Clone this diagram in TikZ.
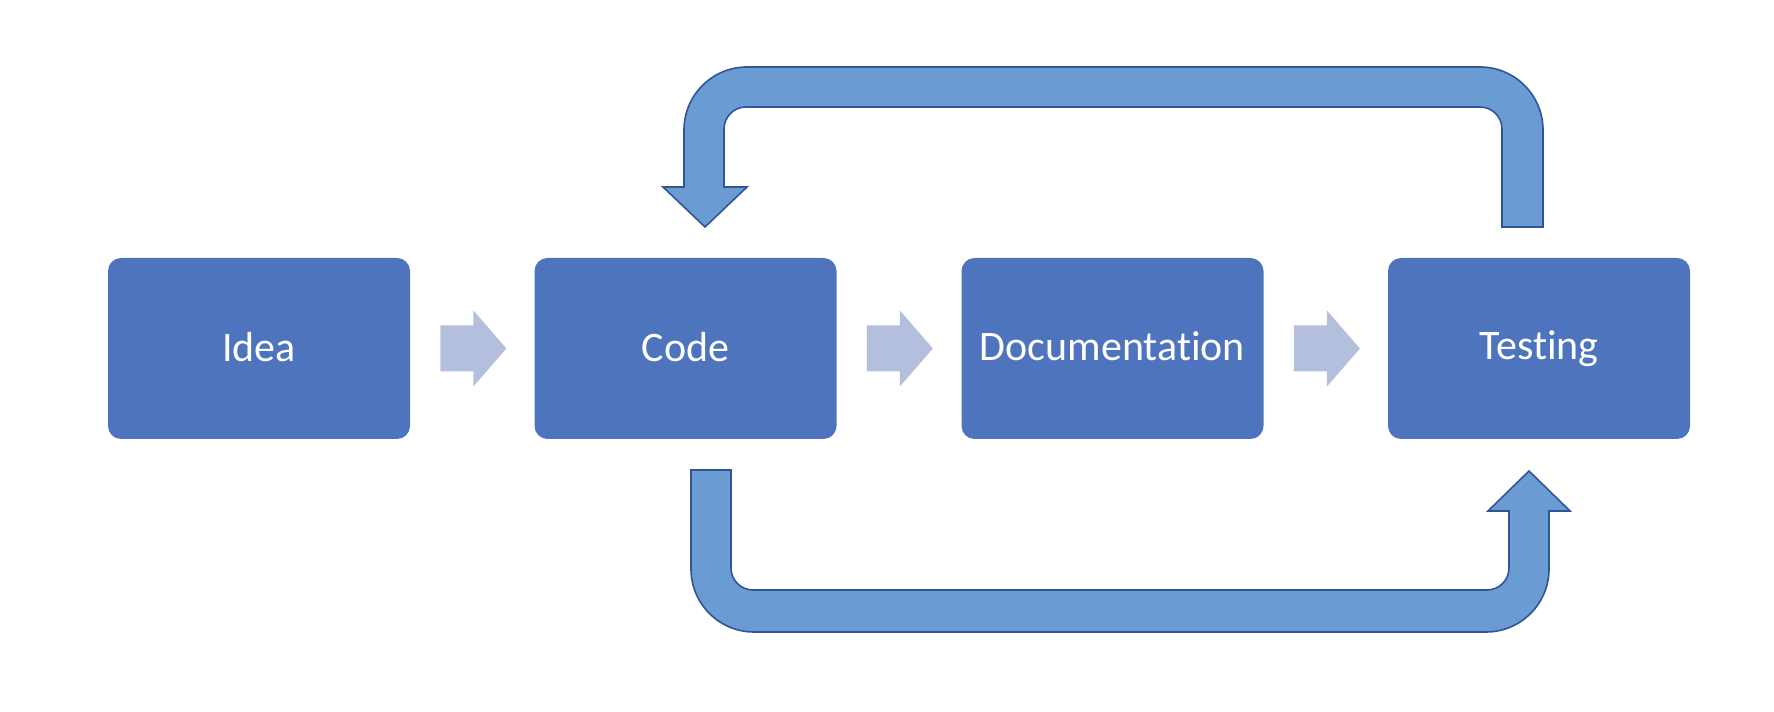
\documentclass[tikz,border=0pt]{standalone}
\usepackage{fontspec}
\setmainfont{Carlito}[Ligatures={NoCommon}]
\usetikzlibrary{calc}
\definecolor{boxblue}{HTML}{4E74BE}
\definecolor{loopfill}{HTML}{6A9BD2}
\definecolor{loopline}{HTML}{2F5597}
\definecolor{lightarrow}{HTML}{B4BFDE}
\newcommand{\stagelabel}[1]{\raisebox{2pt}{#1}}
\tikzset{
  stage/.style={fill=boxblue, draw=none, rounded corners=6.5pt,
    minimum width=151pt, minimum height=90.5pt, inner sep=0pt,
    text=white, font=\fontsize{21}{25}\selectfont},
  looparrow/.style={fill=loopfill, draw=loopline, line width=0.8pt, line join=miter},
  smallarrow/.style={fill=lightarrow, draw=none}
}
\begin{document}
\begin{tikzpicture}[x=0.5pt,y=0.5pt]
\useasboundingbox (0,0) rectangle (1774,712);
% stages
\node[stage] (idea) at (259,363.5) {\stagelabel{Idea}};
\node[stage] (code) at (685.5,363.5) {\stagelabel{Code}};
\node[stage] (doc)  at (1112.5,363.5) {\stagelabel{Documentation}};
\node[stage] (test) at (1539,363.5) {\stagelabel{Testing}};
% light block arrows between stages
\foreach \a in {idea,code,doc}{
  \fill[smallarrow] ($(\a.east)+(30,-23)$) -- ++(33,0) -- ++(0,-15) -- ++(33,38)
     -- ++(-33,38) -- ++(0,-15) -- ++(-33,0) -- cycle;
}
% top loop arrow: Testing back to Code
\draw[looparrow] (1543,485) -- (1543,582) arc[start angle=0,end angle=90,radius=63]
  -- (747,645) arc[start angle=90,end angle=180,radius=63]
  -- (684,525) -- (663,525) -- (705,485) -- (747,525) -- (724,525)
  -- (724,583) arc[start angle=180,end angle=90,radius=22]
  -- (1480,605) arc[start angle=90,end angle=0,radius=22]
  -- (1502,485) -- cycle;
% bottom loop arrow: Code to Testing
\draw[looparrow] (691,242) -- (691,143) arc[start angle=180,end angle=270,radius=63]
  -- (1486,80) arc[start angle=270,end angle=360,radius=63]
  -- (1549,201) -- (1570,201) -- (1529,241) -- (1488,201) -- (1509,201)
  -- (1509,144) arc[start angle=0,end angle=-90,radius=22]
  -- (753,122) arc[start angle=270,end angle=180,radius=22]
  -- (731,242) -- cycle;
\end{tikzpicture}
\end{document}
